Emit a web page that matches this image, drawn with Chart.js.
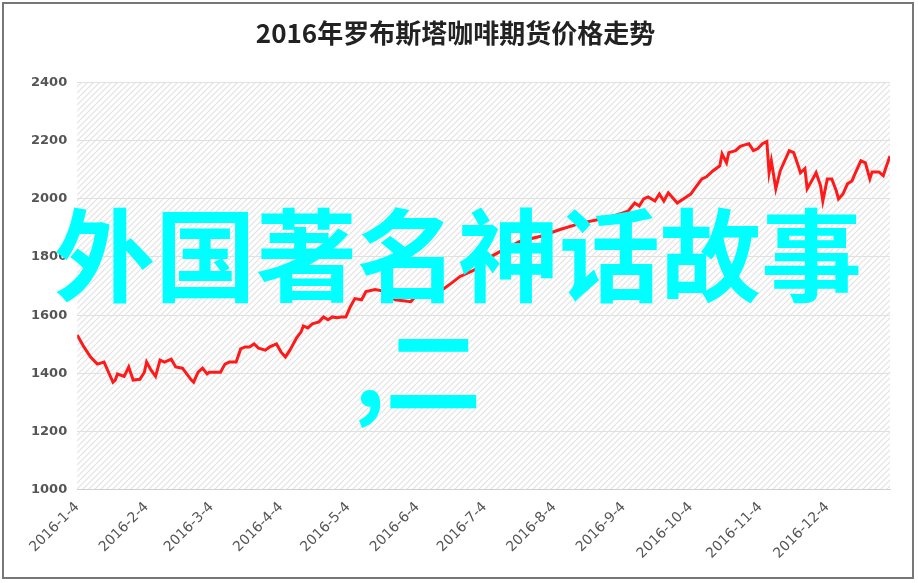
<!DOCTYPE html>
<html><head><meta charset="utf-8">
<script src="https://cdn.jsdelivr.net/npm/chart.js@4"></script>
<style>
body{margin:0;background:#fff}
#wrap{position:absolute;left:2px;top:2px;width:912px;height:577px;border:2px solid #777;box-sizing:border-box}
</style></head><body>
<div id="wrap"><canvas id="myChart" width="908" height="573"></canvas></div>
<script>
const days = [0,3,6,9,12,14,16,17,18,21,23,25,28,30,31,33,35,37,39,42,44,47,51,52,54,56,58,59,64,66,68,71,73,75,77,79,81,84,86,89,91,93,95,98,100,101,103,105,108,110,112,114,116,118,120,122,124,127,129,133,138,142,149,153,158,162,167,171,176,180,185,189,198,207,216,225,234,241,246,249,251,253,255,258,260,262,264,268,272,274,276,279,281,284,287,288,290,291,294,296,297,300,302,304,306,308,309,310,312,314,318,320,322,323,325,326,328,330,332,333,335,337,339,340,342,344,346,348,350,352,354,355,358,360,361,363]
const prices = [1532,1491,1456,1432,1439,1404,1370,1377,1398,1390,1422,1377,1380,1404,1439,1411,1390,1446,1439,1449,1422,1418,1377,1370,1404,1418,1398,1404,1404,1432,1439,1439,1484,1491,1491,1501,1487,1480,1491,1501,1474,1456,1480,1522,1543,1563,1556,1570,1577,1594,1584,1594,1591,1594,1594,1629,1657,1653,1681,1688,1681,1653,1646,1681,1664,1681,1709,1733,1750,1767,1802,1819,1854,1871,1895,1916,1930,1944,1957,1985,1975,1999,2006,1992,2016,1992,2020,1985,2006,2016,2037,2068,2075,2096,2113,2154,2123,2158,2165,2179,2182,2189,2165,2172,2189,2196,2089,2130,2034,2096,2165,2158,2113,2089,2103,2034,2061,2089,2044,1992,2068,2068,2027,1999,2016,2051,2061,2096,2130,2123,2068,2092,2092,2079,2103,2147]
const tickDays = [0,31,60,91,121,152,182,213,244,274,305,335]
const tickLabels = ['2016-1-4','2016-2-4','2016-3-4','2016-4-4','2016-5-4','2016-6-4','2016-7-4','2016-8-4','2016-9-4','2016-10-4','2016-11-4','2016-12-4']

const ctx = document.getElementById('myChart').getContext('2d')

// diagonal hatch for the plot area
const pc = document.createElement('canvas')
pc.width = 6; pc.height = 6
const p = pc.getContext('2d')
p.fillStyle = '#fff'; p.fillRect(0,0,6,6)
p.strokeStyle = '#e2e2e2'; p.lineWidth = 1.2
p.beginPath(); p.moveTo(0,6); p.lineTo(6,0); p.moveTo(-3,3); p.lineTo(3,-3); p.moveTo(3,9); p.lineTo(9,3); p.stroke()
const hatch = ctx.createPattern(pc, 'repeat')

const extras = {
  id: 'extras',
  beforeDraw(chart){
    const a = chart.chartArea, c = chart.ctx
    c.save(); c.fillStyle = hatch; c.fillRect(a.left, a.top, a.right-a.left, a.bottom-a.top); c.restore()
  },
  afterDraw(chart){
    const c = chart.ctx
    c.save()
    c.fillStyle = '#00ffff'
    c.textBaseline = 'alphabetic'
    c.font = 'bold 101px "Noto Sans CJK SC"'
    c.fillText('外国著名神话故事', 50, 290)
    c.font = 'bold 96px "Noto Sans CJK SC"'
    c.fillText(',二', 350, 403)
    c.restore()
  }
}

new Chart(ctx, {
  type: 'line',
  data: {
    datasets: [{
      data: days.map((d,i) => ({x: d, y: prices[i]})),
      borderColor: '#ff1a1a',
      borderWidth: 3,
      pointRadius: 0,
      tension: 0
    }]
  },
  options: {
    responsive: false,
    animation: false,
    layout: {padding: {left: 17, right: 22, top: 0, bottom: 12}},
    plugins: {
      legend: {display: false},
      tooltip: {enabled: false},
      title: {
        display: true,
        text: '2016年罗布斯塔咖啡期货价格走势',
        color: '#222',
        font: {family: '"Noto Sans CJK SC"', size: 26, weight: 'bold'},
        padding: {top: 14, bottom: 33}
      }
    },
    scales: {
      x: {
        type: 'linear', min: 0, max: 363,
        afterBuildTicks: s => { s.ticks = tickDays.map(v => ({value: v})) },
        ticks: {
          callback: (v) => tickLabels[tickDays.indexOf(v)],
          maxRotation: 45, minRotation: 45, autoSkip: false,
          color: '#555', font: {family: 'DejaVu Sans', size: 14}
        },
        grid: {display: false, drawTicks: true, tickLength: 6},
        border: {color: '#d0d0d0'}
      },
      y: {
        min: 1000, max: 2400,
        ticks: {stepSize: 200, callback: v => String(v), color: '#555', font: {family: 'DejaVu Sans', size: 13, weight: 'bold'}, padding: 10},
        grid: {color: '#e0e0e0', drawTicks: false},
        border: {display: false}
      }
    }
  },
  plugins: [extras]
})
</script>
</body></html>
